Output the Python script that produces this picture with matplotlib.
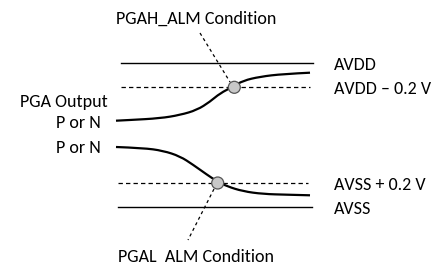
import matplotlib
matplotlib.use("Agg")
import matplotlib.pyplot as plt
from matplotlib.patches import Circle, PathPatch
from matplotlib.path import Path

# pixel coordinates (y grows downward)
upper_x = [116, 130, 160, 180, 197, 210, 220, 233, 243, 260, 283, 310]
upper_y = [120.7, 120, 118.3, 115, 110, 101.7, 93.3, 86.7, 80.7, 76.7, 74, 72.7]

lower_x = [116, 143, 163, 180, 193, 207, 217, 227, 243, 263, 287, 310]
lower_y = [147, 148, 150.7, 156.3, 164.7, 174.7, 181.3, 186.3, 191.3, 194, 194.7, 195.3]

# reference levels: (y, x_start, x_end)
avdd = (63.3, 121, 313)
avdd_thr = (87.3, 121, 310)
avss_thr = (183, 118, 308)
avss = (207.3, 118, 312)

# alarm markers and their leader lines
alarm_hi = (234.3, 87.3)
alarm_lo = (217.7, 183)
leader_hi = ([200, 230], [33, 82])
leader_lo = ([214, 188], [189, 240])

labels_right = ["AVDD", "AVDD \u2013 0.2 V", "AVSS + 0.2 V", "AVSS"]
labels_right_base = [70, 93.5, 189.5, 214]

plt.rcParams['font.family'] = ['Carlito', 'DejaVu Sans']


def smooth_path(xs, ys):
    # quadratic bezier through midpoints, using the read points as controls
    pts = list(zip(xs, ys))
    verts = [pts[0]]
    codes = [Path.MOVETO]
    for i in range(1, len(pts) - 1):
        mid = ((pts[i][0] + pts[i + 1][0]) / 2, (pts[i][1] + pts[i + 1][1]) / 2)
        if i == len(pts) - 2:
            mid = pts[-1]
        verts += [pts[i], mid]
        codes += [Path.CURVE3, Path.CURVE3]
    return Path(verts, codes)


fig = plt.figure(figsize=(4.38, 2.64), dpi=100)
ax = fig.add_axes([0, 0, 1, 1])
ax.set_xlim(0, 438)
ax.set_ylim(264, 0)
ax.axis('off')

# level lines
for lvl, ls in [(avdd, '-'), (avdd_thr, '--'), (avss_thr, '--'), (avss, '-')]:
    if ls == '--':
        ax.plot([lvl[1], lvl[2]], [lvl[0], lvl[0]], color='black', lw=0.9, dashes=(3.5, 2.5))
    else:
        ax.plot([lvl[1], lvl[2]], [lvl[0], lvl[0]], color='black', lw=1.0)

# leader lines
ax.plot(*leader_hi, color='black', lw=0.9, dashes=(2.5, 2.5))
ax.plot(*leader_lo, color='black', lw=0.9, dashes=(2.5, 2.5))

# PGA output curves
for xs, ys in [(upper_x, upper_y), (lower_x, lower_y)]:
    ax.add_patch(PathPatch(smooth_path(xs, ys), facecolor='none',
                           edgecolor='black', lw=1.6, capstyle='butt'))

# alarm circles
for c in [alarm_hi, alarm_lo]:
    ax.add_patch(Circle(c, 6, facecolor='#c8c8c8', edgecolor='#555555',
                        lw=0.9, zorder=5))

fs = 13
for lbl, yb in zip(labels_right, labels_right_base):
    ax.text(334, yb, lbl, fontsize=fs, va='baseline', ha='left')

ax.text(196, 23.5, "PGAH_ALM Condition", fontsize=fs, ha='center', va='baseline')
ax.text(196, 262, "PGAL  ALM Condition", fontsize=fs, ha='center', va='baseline')
ax.text(108, 107.5, "PGA Output", fontsize=fs, ha='right', va='baseline')
ax.text(101, 128, "P or N", fontsize=fs, ha='right', va='baseline')
ax.text(101, 153, "P or N", fontsize=fs, ha='right', va='baseline')

fig.savefig("out.png", dpi=100)
